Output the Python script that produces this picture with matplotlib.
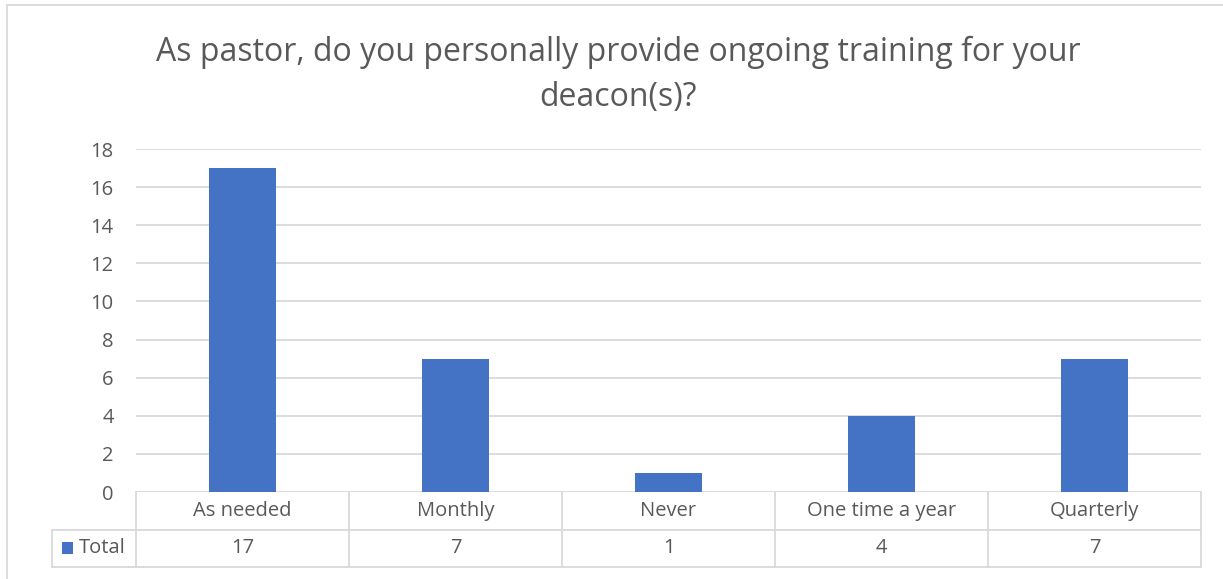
import matplotlib
matplotlib.use("Agg")
import matplotlib.pyplot as plt
import matplotlib.transforms as mtransforms
from matplotlib.patches import Rectangle
import numpy as np

categories = ["As needed", "Monthly", "Never", "One time a year", "Quarterly"]
totals = [17, 7, 1, 4, 7]
series_name = "Total"
title = "As pastor, do you personally provide ongoing training for your\ndeacon(s)?"
y_ticks = [0, 2, 4, 6, 8, 10, 12, 14, 16, 18]

W, H = 1223, 579
bar_color = "#4472c4"
grid_color = "#d9d9d9"
text_color = "#595959"
plt.rcParams["font.family"] = ["Open Sans", "DejaVu Sans"]
fs = 14.5

fig = plt.figure(figsize=(W / 100, H / 100), dpi=100)

# outer chart frame (right/bottom edges run off the image)
fig.patches.append(Rectangle((7 / W, -0.05), 1.1, (H - 5) / H + 0.05, transform=fig.transFigure,
                             fill=False, edgecolor=grid_color, linewidth=1.3))

left, right, top, bottom = 136, 1201, 149, 492
ax = fig.add_axes([left / W, (H - bottom) / H, (right - left) / W, (bottom - top) / H])

x = np.arange(len(categories))
ax.bar(x, totals, width=0.315, color=bar_color, zorder=3)
ax.set_xlim(-0.5, len(categories) - 0.5)
ax.set_ylim(0, 18)
ax.set_yticks(y_ticks)
ax.yaxis.grid(True, color=grid_color, linewidth=1.3)
ax.set_axisbelow(True)
ax.set_xticks([])
for s in ax.spines.values():
    s.set_visible(False)
ax.tick_params(axis="y", length=0, pad=16, labelsize=fs, labelcolor=text_color)

fig.text(618 / W, 1 - 75 / H, title, ha="center", va="center", fontsize=23,
         color=text_color, linespacing=1.47)

# data table below the plot
row_h = 37.5 / (bottom - top)
trans = mtransforms.blended_transform_factory(ax.transData, ax.transAxes)
label_col = -0.5 - 84 / ((right - left) / len(categories))
lw = 1.3
for yy in [-row_h, -2 * row_h]:
    ax.plot([label_col, len(categories) - 0.5], [yy, yy], color=grid_color, lw=lw,
            transform=trans, clip_on=False)
for b in np.arange(len(categories) + 1) - 0.5:
    ax.plot([b, b], [0, -2 * row_h], color=grid_color, lw=lw, transform=trans, clip_on=False)
ax.plot([label_col, label_col], [-row_h, -2 * row_h], color=grid_color, lw=lw,
        transform=trans, clip_on=False)
for i, (c, v) in enumerate(zip(categories, totals)):
    ax.text(i, -row_h / 2, c, ha="center", va="center", fontsize=fs, color=text_color,
            transform=trans)
    ax.text(i, -1.5 * row_h, str(v), ha="center", va="center", fontsize=fs, color=text_color,
            transform=trans)
# legend key inside the table
ax.add_patch(Rectangle((label_col + 0.045, -1.5 * row_h - 0.017), 0.052, 0.034,
                       facecolor=bar_color, transform=trans, clip_on=False))
ax.text(label_col + 0.128, -1.5 * row_h, series_name, ha="left", va="center", fontsize=fs,
        color=text_color, transform=trans)

fig.savefig("out.png", dpi=100)
